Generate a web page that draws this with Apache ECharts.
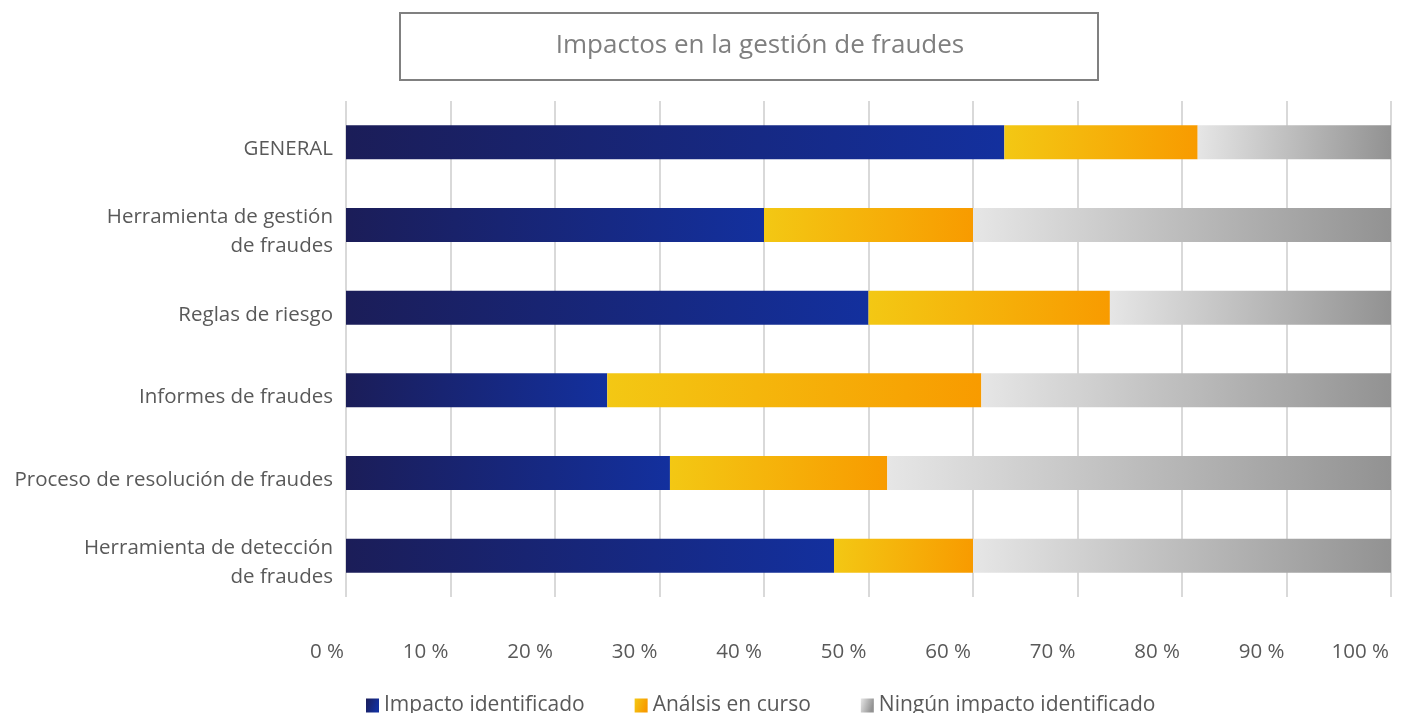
<!DOCTYPE html>
<html>
<head>
<meta charset="utf-8">
<script src="https://cdn.jsdelivr.net/npm/echarts@6/dist/echarts.min.js"></script>
<style>
  html, body { margin: 0; padding: 0; background: #fff; }
  #chart { width: 1408px; height: 713px; }
</style>
</head>
<body>
<div id="chart"></div>
<script>
  // datos (porcentajes)
  var categorias = [
    'GENERAL',
    'Herramienta de gestión\nde fraudes',
    'Reglas de riesgo',
    'Informes de fraudes',
    'Proceso de resolución de fraudes',
    'Herramienta de detección\nde fraudes'
  ]
  var impacto = [63, 40, 50, 25, 31, 46.7]
  var analisis = [18.5, 20, 23.1, 35.8, 20.8, 13.3]
  var ninguno = [18.5, 40, 26.9, 39.2, 48.2, 40]
  var ticks = [0, 10, 20, 30, 40, 50, 60, 70, 80, 90, 100]

  function grad (a, b) {
    return new echarts.graphic.LinearGradient(0, 0, 1, 0.3, [
      { offset: 0, color: a },
      { offset: 1, color: b }
    ])
  }

  var myChart = echarts.init(document.getElementById('chart'))
  var fuente = '"Open Sans", "DejaVu Sans", sans-serif'

  var option = {
    animation: false,
    textStyle: { fontFamily: fuente },
    title: {
      text: 'Impactos en la gestión de fraudes',
      left: 755,
      textAlign: 'center',
      top: 28,
      textStyle: { fontSize: 26, fontWeight: 'normal', color: '#7f7f7f', fontFamily: fuente }
    },
    graphic: [{
      type: 'rect',
      shape: { x: 400, y: 13, width: 698, height: 67 },
      style: { fill: 'none', stroke: '#808080', lineWidth: 2 },
      z: -1
    }],
    legend: {
      top: 690,
      left: 361,
      itemWidth: 13,
      itemHeight: 14,
      itemGap: 50,
      icon: 'rect',
      textStyle: { fontSize: 21, color: '#595959', fontFamily: fuente },
      data: ['Impacto identificado', 'Análsis en curso', 'Ningún impacto identificado']
    },
    grid: { left: 346, right: 17, top: 101, bottom: 116, containLabel: false, outerBoundsMode: 'none' },
    xAxis: {
      type: 'value',
      min: ticks[0],
      max: ticks[ticks.length - 1],
      interval: 10,
      axisLine: { show: false },
      axisTick: { show: false },
      axisLabel: { formatter: '{value} %', fontSize: 20.5, color: '#595959', margin: 45, align: 'right', padding: [0, 2, 0, 0] },
      splitLine: { lineStyle: { color: '#d9d9d9', width: 2 } }
    },
    yAxis: {
      type: 'category',
      inverse: true,
      data: categorias,
      axisLine: { show: false },
      axisTick: { show: false },
      axisLabel: {
        color: '#595959',
        margin: 13,
        align: 'right',
        formatter: function (v) {
          return v.split('\n').map(function (l) { return '{c|' + l + '}' }).join('\n')
        },
        rich: {
          c: { fontSize: 20.5, color: '#595959', lineHeight: 29, fontFamily: fuente, padding: [14, 0, 0, 0] }
        }
      }
    },
    series: [
      {
        name: 'Impacto identificado',
        type: 'bar',
        stack: 'total',
        barWidth: 34,
        itemStyle: { color: grad('#1b1d58', '#13309e') },
        data: impacto
      },
      {
        name: 'Análsis en curso',
        type: 'bar',
        stack: 'total',
        barWidth: 34,
        itemStyle: { color: grad('#f3c814', '#f89b00') },
        data: analisis
      },
      {
        name: 'Ningún impacto identificado',
        type: 'bar',
        stack: 'total',
        barWidth: 34,
        itemStyle: { color: grad('#e6e6e6', '#929292') },
        data: ninguno
      }
    ]
  }

  myChart.setOption(option)
  window.onresize = () => {
    myChart.resize()
  }
</script>
</body>
</html>
